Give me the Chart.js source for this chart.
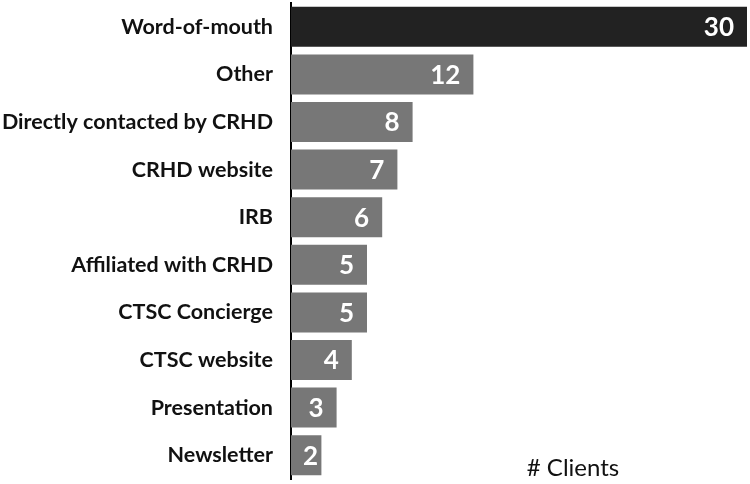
<!DOCTYPE html>
<html>
<head>
<meta charset="utf-8">
<script src="https://cdn.jsdelivr.net/npm/chart.js@4"></script>
<style>
html,body{margin:0;padding:0;background:#fff;}
#wrap{width:750px;height:484px;}
</style>
</head>
<body>
<div id="wrap"><canvas id="c" width="750" height="484"></canvas></div>
<script>
const categories = ["Word-of-mouth","Other","Directly contacted by CRHD","CRHD website","IRB","Affiliated with CRHD","CTSC Concierge","CTSC website","Presentation","Newsletter"];
const clients = [30,12,8,7,6,5,5,4,3,2];
const axisTitle = "# Clients";
const barColors = clients.map((v,i)=> i===0 ? "#222222" : "#777777");

const valueLabels = {
  id:'valueLabels',
  afterDatasetsDraw(chart){
    const ctx = chart.ctx;
    const meta = chart.getDatasetMeta(0);
    const base = chart.scales.x.getPixelForValue(0);
    ctx.save();
    ctx.font = "bold 26px Lato";
    ctx.fillStyle = "#ffffff";
    ctx.textAlign = "right";
    ctx.textBaseline = "middle";
    meta.data.forEach((bar,i)=>{
      const t = String(clients[i]);
      const w = ctx.measureText(t).width;
      const x = Math.max(bar.x - 13, base + 12 + w);
      ctx.fillText(t, x, bar.y + 1);
    });
    ctx.restore();
  }
};
const axisTitlePlugin = {
  id:'axisTitlePlugin',
  afterDraw(chart){
    const ctx = chart.ctx;
    ctx.save();
    ctx.font = "24px Lato";
    ctx.fillStyle = "#111111";
    ctx.textAlign = "center";
    ctx.textBaseline = "middle";
    ctx.fillText(axisTitle, 573, 468);
    ctx.restore();
  }
};

new Chart(document.getElementById('c'), {
  type:'bar',
  data:{
    labels: categories,
    datasets:[{data: clients, backgroundColor: barColors, borderWidth:0, barPercentage:0.84, categoryPercentage:1}]
  },
  options:{
    indexAxis:'y',
    responsive:false,
    animation:false,
    layout:{padding:{top:3,right:3,bottom:5,left:0}},
    plugins:{legend:{display:false}, tooltip:{enabled:false}},
    scales:{
      x:{display:false, min:0, max:30},
      y:{
        grid:{display:false, drawTicks:false},
        border:{display:true, color:'#000000', width:2},
        ticks:{color:'#111111', padding:18, font:{family:'Lato', weight:'bold', size:21.5}},
        afterFit(s){ s.width = 291; s.paddingTop = 0; s.paddingBottom = 0; }
      }
    }
  },
  plugins:[valueLabels, axisTitlePlugin]
});
</script>
</body>
</html>
